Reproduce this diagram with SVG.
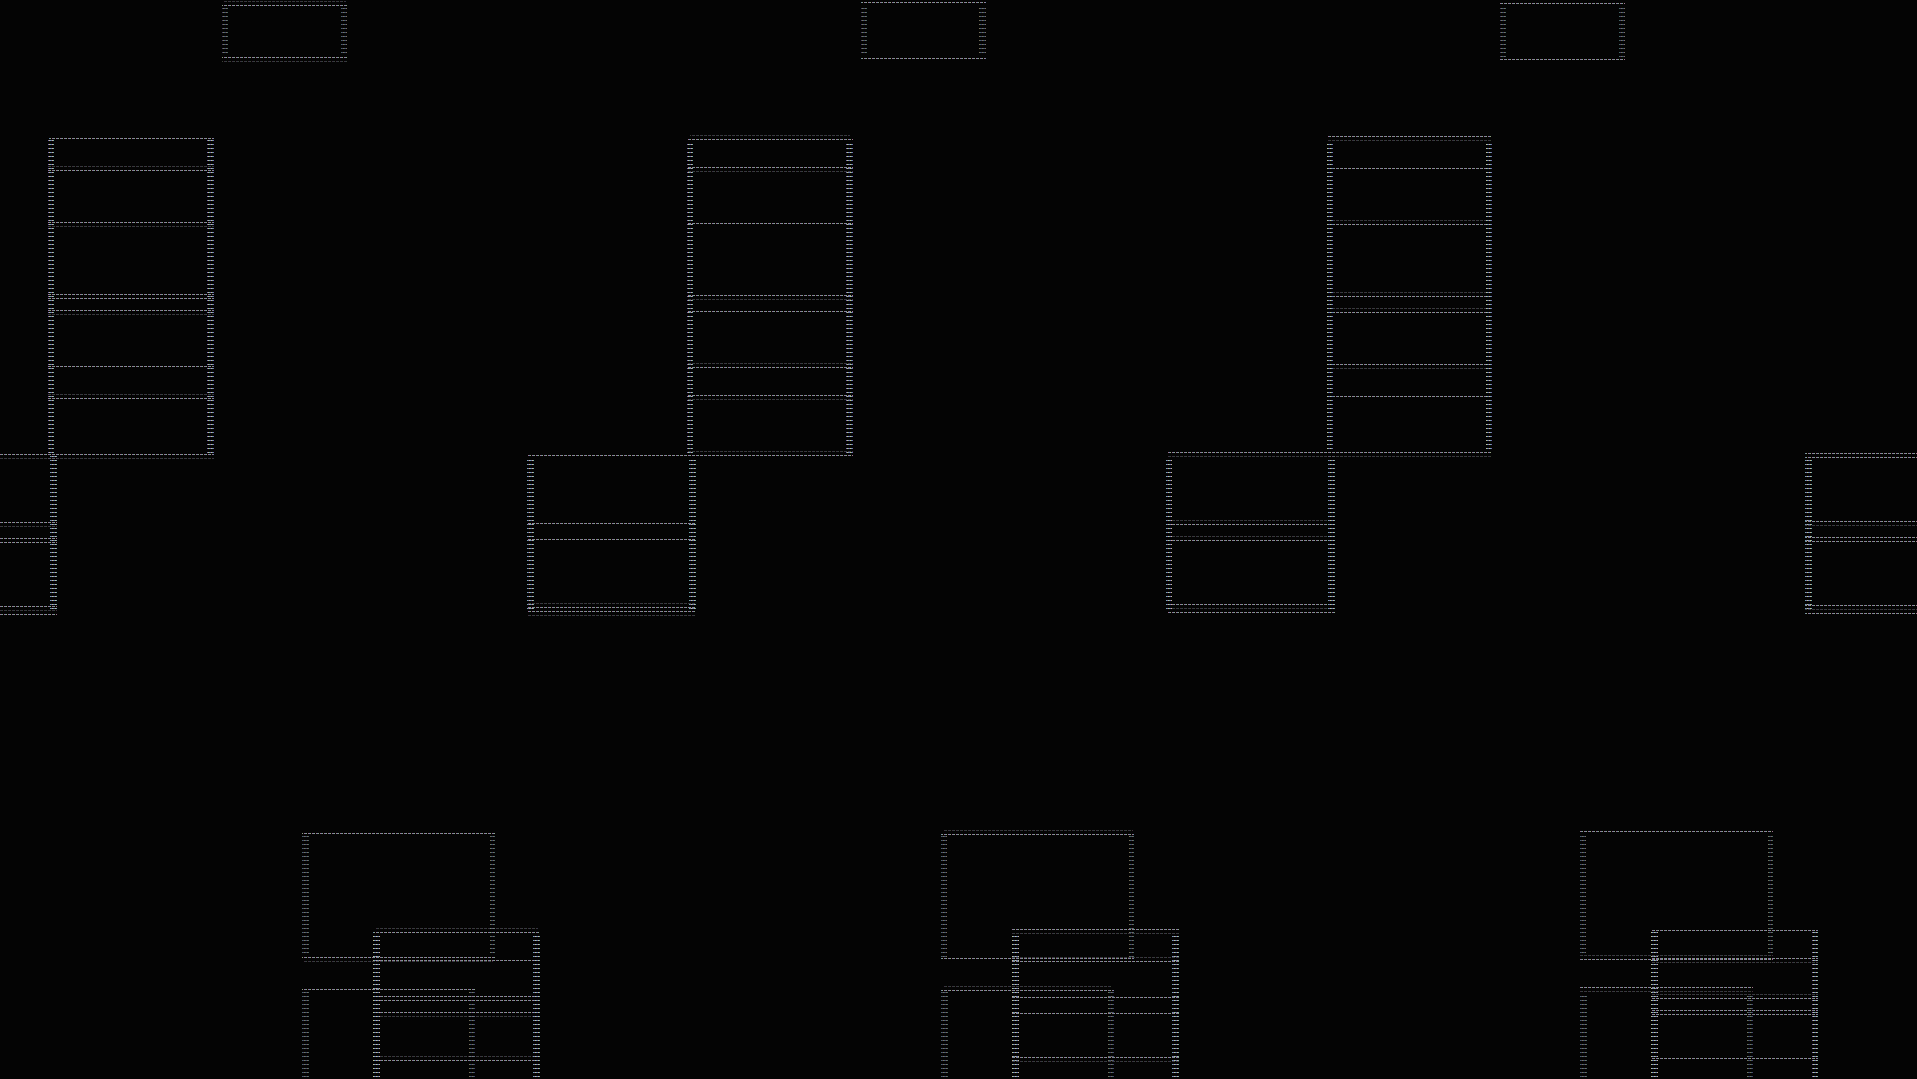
<svg xmlns="http://www.w3.org/2000/svg" width="1917" height="1079" viewBox="0 0 1917 1079">
<defs>
<pattern id="ph" width="4" height="1" patternUnits="userSpaceOnUse"><rect width="1" height="1" fill="#a0708e"/><rect x="1" width="1" height="1" fill="#6a8aa8"/><rect x="2" width="1" height="1" fill="#90a080"/></pattern>
<pattern id="pv" width="3" height="4" patternUnits="userSpaceOnUse"><rect width="1" height="1" fill="#7468b0"/><rect x="1" width="1" height="1" fill="#c4bc98"/><rect x="2" width="1" height="1" fill="#74aab0"/></pattern>
</defs>
<style>
.h{fill:url(#ph)}
.hf{fill:url(#ph);opacity:.4}
.v{fill:url(#pv)}
.vf{fill:url(#pv);opacity:.6}
</style>
<rect width="1917" height="1079" fill="#040404"/>
<g id="connectors"/>

<!-- Column 1 -->
<g id="c1-top">
<rect class="hf" x="224" y="1" width="122" height="1"/>
<rect class="h" x="222" y="5" width="125" height="1"/>
<rect class="h" x="222" y="57" width="125" height="1"/>
<rect class="hf" x="222" y="61" width="125" height="1"/>
<rect class="vf" x="222" y="8" width="6" height="48"/>
<rect class="vf" x="341" y="8" width="6" height="48"/>
</g>
<g id="c1-stack">
<rect class="h" x="49" y="138" width="165" height="1"/>
<rect class="hf" x="48" y="166" width="166" height="1"/>
<rect class="h" x="48" y="170" width="166" height="1"/>
<rect class="h" x="48" y="222" width="166" height="1"/>
<rect class="hf" x="48" y="226" width="166" height="1"/>
<rect class="h" x="48" y="294" width="166" height="1"/>
<rect class="h" x="48" y="298" width="166" height="1"/>
<rect class="h" x="48" y="310" width="166" height="1"/>
<rect class="hf" x="48" y="314" width="166" height="1"/>
<rect class="h" x="48" y="366" width="166" height="1"/>
<rect class="hf" x="48" y="394" width="166" height="1"/>
<rect class="h" x="48" y="398" width="166" height="1"/>
<rect class="h" x="48" y="454" width="166" height="1"/>
<rect class="hf" x="48" y="458" width="166" height="1"/>
<rect class="v" x="48" y="140" width="6" height="313"/>
<rect class="v" x="207" y="140" width="7" height="313"/>
</g>
<g id="c1-lower">
<rect class="h" x="-112" y="454" width="169" height="1"/>
<rect class="hf" x="-112" y="458" width="169" height="1"/>
<rect class="h" x="-112" y="522" width="169" height="1"/>
<rect class="hf" x="-112" y="526" width="169" height="1"/>
<rect class="h" x="-112" y="538" width="169" height="1"/>
<rect class="h" x="-112" y="542" width="169" height="1"/>
<rect class="h" x="-112" y="606" width="169" height="1"/>
<rect class="hf" x="-112" y="610" width="169" height="1"/>
<rect class="h" x="-112" y="614" width="169" height="1"/>
<rect class="v" x="50" y="456" width="7" height="156"/>
</g>
<g id="c1-back">
<rect class="h" x="302" y="833" width="193" height="1"/>
<rect class="h" x="302" y="957" width="193" height="1"/>
<rect class="hf" x="303" y="961" width="190" height="1"/>
<rect class="vf" x="302" y="835" width="7" height="121"/>
<rect class="vf" x="490" y="835" width="5" height="121"/>
</g>
<g id="c1-third">
<rect class="h" x="302" y="989" width="173" height="1"/>
<rect class="vf" x="302" y="991" width="7" height="88"/>
<rect class="vf" x="469" y="991" width="6" height="88"/>
</g>
<g id="c1-front">
<rect class="hf" x="375" y="928" width="163" height="1"/>
<rect class="h" x="373" y="932" width="167" height="1"/>
<rect class="h" x="373" y="960" width="167" height="1"/>
<rect class="h" x="373" y="996" width="167" height="1"/>
<rect class="h" x="373" y="1000" width="167" height="1"/>
<rect class="h" x="373" y="1012" width="167" height="1"/>
<rect class="hf" x="373" y="1016" width="167" height="1"/>
<rect class="hf" x="373" y="1056" width="167" height="1"/>
<rect class="h" x="373" y="1060" width="167" height="1"/>
<rect class="v" x="373" y="934" width="7" height="145"/>
<rect class="v" x="533" y="934" width="7" height="145"/>
</g>

<!-- Column 2 -->
<g id="c2-top">
<rect class="h" x="861" y="2" width="125" height="1"/>
<rect class="h" x="861" y="58" width="125" height="1"/>
<rect class="vf" x="861" y="5" width="6" height="51"/>
<rect class="vf" x="979" y="5" width="7" height="51"/>
</g>
<g id="c2-stack">
<rect class="hf" x="690" y="135" width="160" height="1"/>
<rect class="h" x="687" y="139" width="166" height="1"/>
<rect class="h" x="687" y="167" width="166" height="1"/>
<rect class="hf" x="687" y="171" width="166" height="1"/>
<rect class="h" x="687" y="223" width="166" height="1"/>
<rect class="h" x="687" y="295" width="166" height="1"/>
<rect class="hf" x="687" y="299" width="166" height="1"/>
<rect class="h" x="687" y="311" width="166" height="1"/>
<rect class="hf" x="687" y="363" width="166" height="1"/>
<rect class="h" x="687" y="367" width="166" height="1"/>
<rect class="h" x="687" y="395" width="166" height="1"/>
<rect class="hf" x="687" y="399" width="166" height="1"/>
<rect class="hf" x="687" y="451" width="166" height="1"/>
<rect class="h" x="687" y="455" width="166" height="1"/>
<rect class="v" x="687" y="141" width="6" height="313"/>
<rect class="v" x="846" y="141" width="7" height="313"/>
</g>
<g id="c2-lower">
<rect class="h" x="527" y="455" width="169" height="1"/>
<rect class="h" x="527" y="523" width="169" height="1"/>
<rect class="h" x="527" y="539" width="169" height="1"/>
<rect class="hf" x="527" y="603" width="169" height="1"/>
<rect class="h" x="527" y="607" width="169" height="1"/>
<rect class="h" x="527" y="611" width="169" height="1"/>
<rect class="hf" x="527" y="615" width="169" height="1"/>
<rect class="v" x="527" y="457" width="7" height="153"/>
<rect class="v" x="689" y="457" width="7" height="153"/>
</g>
<g id="c2-back">
<rect class="hf" x="943" y="830" width="190" height="1"/>
<rect class="h" x="941" y="834" width="193" height="1"/>
<rect class="h" x="941" y="958" width="193" height="1"/>
<rect class="vf" x="941" y="836" width="6" height="121"/>
<rect class="vf" x="1129" y="836" width="5" height="121"/>
</g>
<g id="c2-third">
<rect class="hf" x="944" y="986" width="168" height="1"/>
<rect class="h" x="941" y="990" width="173" height="1"/>
<rect class="vf" x="941" y="992" width="7" height="87"/>
<rect class="vf" x="1108" y="992" width="6" height="87"/>
</g>
<g id="c2-front">
<rect class="h" x="1012" y="929" width="167" height="1"/>
<rect class="hf" x="1012" y="933" width="167" height="1"/>
<rect class="hf" x="1012" y="957" width="167" height="1"/>
<rect class="h" x="1012" y="961" width="167" height="1"/>
<rect class="h" x="1012" y="997" width="167" height="1"/>
<rect class="h" x="1012" y="1013" width="167" height="1"/>
<rect class="h" x="1012" y="1057" width="167" height="1"/>
<rect class="hf" x="1012" y="1061" width="167" height="1"/>
<rect class="v" x="1012" y="935" width="7" height="144"/>
<rect class="v" x="1172" y="935" width="7" height="144"/>
</g>

<!-- Column 3 -->
<g id="c3-top">
<rect class="h" x="1500" y="3" width="125" height="1"/>
<rect class="h" x="1500" y="59" width="125" height="1"/>
<rect class="vf" x="1500" y="6" width="6" height="51"/>
<rect class="vf" x="1619" y="6" width="6" height="51"/>
</g>
<g id="c3-stack">
<rect class="h" x="1327" y="136" width="165" height="1"/>
<rect class="hf" x="1327" y="140" width="165" height="1"/>
<rect class="h" x="1327" y="168" width="165" height="1"/>
<rect class="hf" x="1327" y="220" width="165" height="1"/>
<rect class="h" x="1327" y="224" width="165" height="1"/>
<rect class="hf" x="1327" y="292" width="165" height="1"/>
<rect class="h" x="1327" y="296" width="165" height="1"/>
<rect class="hf" x="1327" y="308" width="165" height="1"/>
<rect class="h" x="1327" y="312" width="165" height="1"/>
<rect class="h" x="1327" y="364" width="165" height="1"/>
<rect class="hf" x="1327" y="368" width="165" height="1"/>
<rect class="h" x="1327" y="396" width="165" height="1"/>
<rect class="h" x="1327" y="452" width="165" height="1"/>
<rect class="hf" x="1327" y="456" width="165" height="1"/>
<rect class="v" x="1327" y="142" width="6" height="309"/>
<rect class="v" x="1486" y="142" width="6" height="309"/>
</g>
<g id="c3-lower">
<rect class="h" x="1167" y="452" width="168" height="1"/>
<rect class="hf" x="1167" y="456" width="168" height="1"/>
<rect class="hf" x="1167" y="520" width="168" height="1"/>
<rect class="h" x="1167" y="524" width="168" height="1"/>
<rect class="hf" x="1167" y="536" width="168" height="1"/>
<rect class="h" x="1167" y="540" width="168" height="1"/>
<rect class="h" x="1167" y="604" width="168" height="1"/>
<rect class="hf" x="1167" y="608" width="168" height="1"/>
<rect class="h" x="1167" y="612" width="168" height="1"/>
<rect class="v" x="1166" y="458" width="6" height="152"/>
<rect class="v" x="1328" y="458" width="7" height="152"/>
</g>
<g id="c3-back">
<rect class="h" x="1580" y="831" width="193" height="1"/>
<rect class="hf" x="1580" y="955" width="193" height="1"/>
<rect class="h" x="1580" y="959" width="193" height="1"/>
<rect class="vf" x="1580" y="833" width="6" height="121"/>
<rect class="vf" x="1768" y="833" width="5" height="121"/>
</g>
<g id="c3-third">
<rect class="h" x="1580" y="987" width="173" height="1"/>
<rect class="hf" x="1580" y="991" width="173" height="1"/>
<rect class="vf" x="1580" y="993" width="7" height="86"/>
<rect class="vf" x="1747" y="993" width="6" height="86"/>
</g>
<g id="c3-front">
<rect class="h" x="1651" y="930" width="167" height="1"/>
<rect class="h" x="1651" y="958" width="167" height="1"/>
<rect class="hf" x="1651" y="962" width="167" height="1"/>
<rect class="hf" x="1651" y="994" width="167" height="1"/>
<rect class="h" x="1651" y="998" width="167" height="1"/>
<rect class="h" x="1651" y="1010" width="167" height="1"/>
<rect class="h" x="1651" y="1014" width="167" height="1"/>
<rect class="h" x="1651" y="1058" width="167" height="1"/>
<rect class="v" x="1651" y="932" width="7" height="147"/>
<rect class="v" x="1812" y="932" width="6" height="147"/>
</g>

<!-- Column 4 (partial) -->
<g id="c4-lower">
<rect class="h" x="1805" y="453" width="169" height="1"/>
<rect class="h" x="1805" y="457" width="169" height="1"/>
<rect class="h" x="1805" y="521" width="169" height="1"/>
<rect class="hf" x="1805" y="525" width="169" height="1"/>
<rect class="h" x="1805" y="537" width="169" height="1"/>
<rect class="h" x="1805" y="541" width="169" height="1"/>
<rect class="h" x="1805" y="605" width="169" height="1"/>
<rect class="hf" x="1805" y="609" width="169" height="1"/>
<rect class="h" x="1805" y="613" width="169" height="1"/>
<rect class="v" x="1805" y="459" width="7" height="152"/>
</g>
</svg>
